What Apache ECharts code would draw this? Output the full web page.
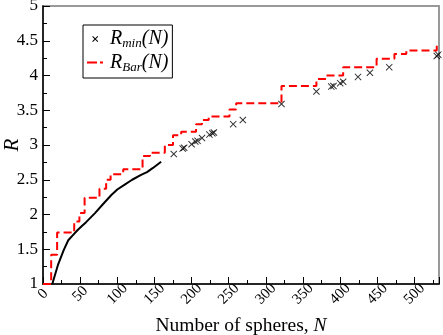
<!DOCTYPE html>
<html>
<head>
<meta charset="utf-8">
<script src="https://cdn.jsdelivr.net/npm/echarts@6/dist/echarts.min.js"></script>
<style>
  html, body { margin: 0; padding: 0; background: #fff; }
  #chart { width: 443px; height: 335px; }
</style>
</head>
<body>
<div id="chart"></div>
<script>
// R_min(N): computed curve (solid) for small N
var rMinCurve = [
  [12.5, 1.0], [20, 1.27], [28, 1.49], [34, 1.63], [40, 1.7], [47, 1.78],
  [52, 1.83], [58, 1.89], [70, 2.02], [80, 2.14], [92, 2.28], [100, 2.36],
  [110, 2.43], [120, 2.5], [132, 2.57], [140, 2.61], [148, 2.67], [159, 2.76]
]
// R_min(N): individual points (crosses)
var rMinPoints = [
  [176, 2.87], [188, 2.95], [190, 2.96], [200, 3.01], [205, 3.05], [208, 3.06],
  [214, 3.10], [224, 3.15], [228, 3.17], [230, 3.18], [256, 3.30], [269, 3.36],
  [321, 3.59], [368, 3.77], [388, 3.84], [391, 3.85], [400, 3.89], [404, 3.91],
  [424, 3.98], [440, 4.04], [466, 4.12], [530, 4.28], [532, 4.30]
]
// R_Bar(N): step function, value changes at N
var rBarSteps = [
  [0, 1.0], [11, 1.42], [19, 1.74], [42, 1.9], [49, 2.02], [56, 2.24],
  [76, 2.37], [85, 2.5], [91, 2.58], [108, 2.65], [134, 2.84], [144, 2.89],
  [164, 3.0], [175, 3.14], [186, 3.19], [206, 3.3], [214, 3.36], [223, 3.41],
  [251, 3.51], [260, 3.6], [321, 3.85], [368, 3.95], [381, 4.0], [404, 4.12],
  [449, 4.24], [473, 4.31], [489, 4.36], [530, 4.43], [533, 4.43]
]

var serif = 'Liberation Serif'
var cross = 'path://M0,1L1,0L5,4L9,0L10,1L6,5L10,9L9,10L5,6L1,10L0,9L4,5Z'
// legend icons: tiny corner dots keep the 20x12 box so the marks stay small
var box = 'M0,0h0.1v0.1h-0.1zM19.9,11.9h0.1v0.1h-0.1z'
var crossIcon = 'path://' + box + 'M7.2,3.7L7.9,3L10.2,5.3L12.5,3L13.2,3.7L10.9,6L13.2,8.3L12.5,9L10.2,6.7L7.9,9L7.2,8.3L9.5,6Z'
var dashIcon = 'path://' + box + 'M2,5h10v2h-10zM15,5h3v2h-3z'

var chart = echarts.init(document.getElementById('chart'))
chart.setOption({
  animation: false,
  grid: {
    left: 43,
    right: 4,
    top: 6,
    bottom: 51,
    outerBoundsMode: 'none',
    containLabel: false,
    show: true,
    borderColor: '#999',
    borderWidth: 2
  },
  legend: {
    orient: 'vertical',
    left: 83,
    top: 25,
    padding: [4, 4, 4, 2],
    itemGap: 2,
    itemWidth: 20,
    itemHeight: 12,
    borderColor: '#000',
    borderWidth: 1,
    borderRadius: 0,
    textStyle: {
      fontFamily: serif,
      color: '#000',
      rich: {
        a: { fontFamily: serif, fontStyle: 'italic', fontSize: 20, color: '#000' },
        b: { fontFamily: serif, fontStyle: 'italic', fontSize: 13, color: '#000', verticalAlign: 'bottom', padding: [10, 0, 0, 0] }
      }
    },
    formatter: function(name) {
      return name === 'min' ? '{a|R}{b|min}{a|(N)}' : '{a|R}{b|Bar}{a|(N)}'
    },
    data: [
      { name: 'min', icon: crossIcon, itemStyle: { color: '#000', borderWidth: 0 } },
      { name: 'Bar', icon: dashIcon, itemStyle: { color: '#ff0000', borderWidth: 0 } }
    ]
  },
  xAxis: {
    type: 'value',
    min: 0,
    max: 533,
    interval: 50,
    name: 'Number of spheres, {i|N}',
    nameLocation: 'middle',
    nameGap: 32,
    nameMoveOverlap: false,
    nameTextStyle: {
      fontFamily: serif,
      fontSize: 19.5,
      color: '#000',
      rich: { i: { fontFamily: serif, fontStyle: 'italic', fontSize: 19.5, color: '#000' } }
    },
    axisLine: { lineStyle: { color: '#000', width: 1.5 } },
    axisTick: { inside: true, length: 7, lineStyle: { color: '#000' } },
    minorTick: { show: true, splitNumber: 2, length: 4, lineStyle: { color: '#000' } },
    splitLine: { show: false },
    axisLabel: {
      rotate: 45,
      align: 'center',
      verticalAlign: 'middle',
      fontFamily: serif,
      fontSize: 15,
      color: '#000',
      margin: 10,
      showMaxLabel: false
    }
  },
  yAxis: {
    type: 'value',
    min: 1,
    max: 5,
    interval: 0.5,
    name: 'R',
    nameLocation: 'middle',
    nameGap: 20,
    nameMoveOverlap: false,
    nameTextStyle: { fontFamily: serif, fontStyle: 'italic', fontSize: 21, color: '#000' },
    axisLine: { lineStyle: { color: '#000', width: 1.5 } },
    axisTick: { inside: true, length: 7, lineStyle: { color: '#000' } },
    minorTick: { show: true, splitNumber: 2, length: 4, lineStyle: { color: '#000' } },
    splitLine: { show: false },
    axisLabel: { fontFamily: serif, fontSize: 17, color: '#000', margin: 5 }
  },
  series: [
    {
      name: 'Bar',
      type: 'line',
      step: 'end',
      symbol: 'none',
      data: rBarSteps,
      lineStyle: { color: '#ff0000', width: 2, type: [8, 4] },
      itemStyle: { color: '#ff0000' },
      z: 2
    },
    {
      name: 'min',
      type: 'line',
      symbol: 'none',
      data: rMinCurve,
      lineStyle: { color: '#000', width: 2 },
      itemStyle: { color: '#000' },
      z: 3
    },
    {
      name: 'min',
      type: 'scatter',
      symbol: cross,
      symbolSize: 7,
      data: rMinPoints,
      itemStyle: { color: '#000' },
      z: 4
    }
  ]
})
</script>
</body>
</html>
